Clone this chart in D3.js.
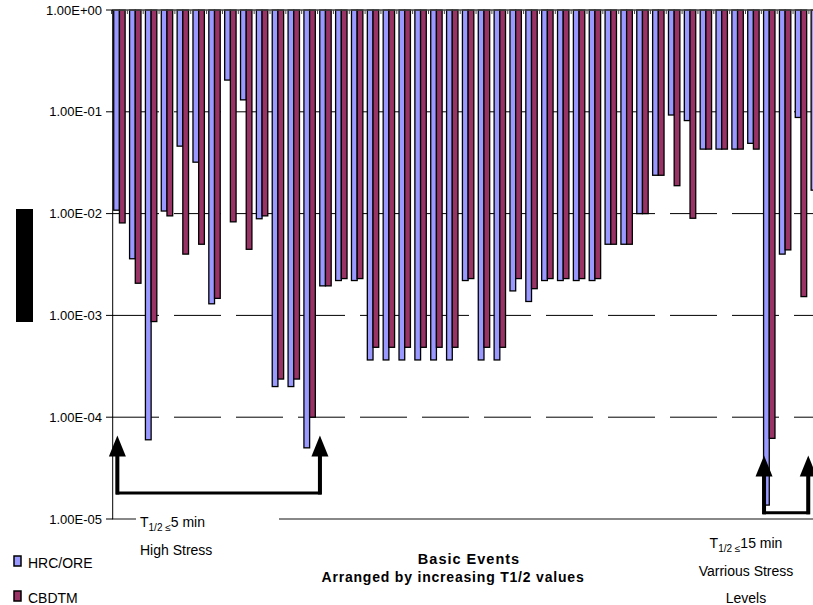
<!DOCTYPE html>
<html>
<head>
<meta charset="utf-8">
<script src="https://cdn.jsdelivr.net/npm/d3@7"></script>
<style>
  body { margin: 0; background: #fff; }
  text { font-family: "Liberation Sans", Arial, sans-serif; }
</style>
</head>
<body>
<svg id="chart" width="813" height="605"></svg>
<script>
// basic events, ordered by increasing T1/2 (no labels shown on the chart)
var categories = d3.range(1, 46).map(function (i) { return "BE" + i; });
var seriesNames = ["HRC/ORE", "CBDTM"];
var seriesColors = ["#9999ff", "#993366"];

var hrcOre = [1.08e-2, 3.6e-3, 6.0e-5, 1.06e-2, 4.6e-2, 3.2e-2, 1.3e-3, 2.05e-1, 1.31e-1, 8.9e-3,
    2.0e-4, 2.0e-4, 5.0e-5, 1.95e-3, 2.2e-3, 2.2e-3, 3.65e-4, 3.65e-4, 3.65e-4, 3.65e-4,
    3.65e-4, 3.65e-4, 2.2e-3, 3.65e-4, 3.65e-4, 1.74e-3, 1.37e-3, 2.2e-3, 2.2e-3, 2.2e-3,
    2.2e-3, 5.0e-3, 5.0e-3, 1.0e-2, 2.38e-2, 9.3e-2, 8.2e-2, 4.3e-2, 4.3e-2, 4.3e-2,
    4.9e-2, 1.37e-5, 4.0e-3, 8.8e-2, 1.7e-2];
var cbdtm = [8.1e-3, 2.07e-3, 8.7e-4, 9.5e-3, 4.0e-3, 5.0e-3, 1.47e-3, 8.3e-3, 4.46e-3, 9.5e-3,
    2.37e-4, 2.37e-4, 1.0e-4, 1.95e-3, 2.3e-3, 2.3e-3, 4.86e-4, 4.86e-4, 4.86e-4, 4.86e-4,
    4.86e-4, 4.86e-4, 2.3e-3, 4.86e-4, 4.86e-4, 2.3e-3, 1.83e-3, 2.3e-3, 2.3e-3, 2.3e-3,
    2.3e-3, 5.0e-3, 5.0e-3, 1.0e-2, 2.38e-2, 1.88e-2, 9.0e-3, 4.3e-2, 4.3e-2, 4.3e-2,
    4.3e-2, 6.2e-5, 4.4e-3, 1.53e-3, 1.2e-2];

var yTicks = [1, 1e-1, 1e-2, 1e-3, 1e-4, 1e-5];
var yTickLabels = ["1.00E+00", "1.00E-01", "1.00E-02", "1.00E-03", "1.00E-04", "1.00E-05"];

// bracket annotations: [from category index, to category index, arrow tip value, bracket value]
var brackets = [[0.37, 13.15, 6.6e-5, 1.8e-5], [41.17, 43.96, 4.2e-5, 1.15e-5]];

var svg = d3.select("#chart");

var step = 15.85;
var x = d3.scaleBand().domain(categories)
    .range([111.5, 111.5 + categories.length * step]);
var xs = d3.scaleBand().domain(seriesNames)
    .range([0, x.bandwidth()]).paddingOuter(0.39);
var xi = d3.scaleLinear().domain([0, 1]).range([111.5, 111.5 + step]);
var y = d3.scaleLog().domain([1e-5, 1]).range([519, 10]);

// dashed gridlines
svg.append("g").selectAll("line")
    .data(yTicks.slice(1, 5))
    .enter().append("line")
    .attr("x1", 112).attr("x2", 813)
    .attr("y1", function (d) { return y(d); })
    .attr("y2", function (d) { return y(d); })
    .attr("stroke", "#000")
    .attr("stroke-width", 1)
    .attr("stroke-dasharray", "47,15");

// bottom line at 1E-5 (gray)
svg.append("line")
    .attr("x1", 112).attr("x2", 813)
    .attr("y1", y(1e-5)).attr("y2", y(1e-5))
    .attr("stroke", "#888").attr("stroke-width", 2);

// bars hang from 1.00E+00
var rows = categories.map(function (c, i) {
    return { cat: c, vals: [hrcOre[i], cbdtm[i]] };
});
var groups = svg.append("g").selectAll("g")
    .data(rows)
    .enter().append("g")
    .attr("transform", function (d) { return "translate(" + x(d.cat) + ",0)"; });

groups.selectAll("rect")
    .data(function (d) {
        return d.vals.map(function (v, k) { return { name: seriesNames[k], v: v, k: k }; });
    })
    .enter().append("rect")
    .attr("x", function (d) { return xs(d.name); })
    .attr("y", y(1))
    .attr("width", xs.bandwidth())
    .attr("height", function (d) { return y(d.v) - y(1); })
    .attr("fill", function (d) { return seriesColors[d.k]; })
    .attr("stroke", "#000")
    .attr("stroke-width", 1.3);

// top category axis (crosses at 1.00E+00)
svg.append("line")
    .attr("x1", 112).attr("x2", 813)
    .attr("y1", y(1)).attr("y2", y(1))
    .attr("stroke", "#444").attr("stroke-width", 1.5);
svg.append("g").selectAll("line")
    .data(categories)
    .enter().append("line")
    .attr("x1", function (d) { return x(d); })
    .attr("x2", function (d) { return x(d); })
    .attr("y1", y(1)).attr("y2", y(1) + 4)
    .attr("stroke", "#444").attr("stroke-width", 1);

// value axis
svg.append("line")
    .attr("x1", 112.7).attr("x2", 112.7)
    .attr("y1", y(1)).attr("y2", y(1e-5))
    .attr("stroke", "#000").attr("stroke-width", 1);
svg.append("g").selectAll("line")
    .data(yTicks)
    .enter().append("line")
    .attr("x1", 106).attr("x2", 112.7)
    .attr("y1", function (d) { return y(d); })
    .attr("y2", function (d) { return y(d); })
    .attr("stroke", "#000");
svg.append("g").selectAll("text")
    .data(yTicks)
    .enter().append("text")
    .attr("x", 102)
    .attr("y", function (d) { return y(d) + 4.5; })
    .attr("text-anchor", "end")
    .attr("font-size", 13)
    .text(function (d, i) { return yTickLabels[i]; });

// blacked-out axis title
svg.append("rect")
    .attr("x", 16).attr("y", 209)
    .attr("width", 17).attr("height", 113)
    .attr("fill", "#000");

// white box behind the left note, over the bottom line
svg.append("rect")
    .attr("x", 136).attr("y", 511)
    .attr("width", 143).attr("height", 50)
    .attr("fill", "#fff");

// brackets with arrows
brackets.forEach(function (b) {
    var xa = xi(b[0]), xb = xi(b[1]);
    var yTip = y(b[2]), yBar = y(b[3]);
    var g = svg.append("g");
    g.append("path")
        .attr("d", "M" + xa + "," + (yTip + 18) + " L" + xa + "," + yBar +
            " L" + xb + "," + yBar + " L" + xb + "," + (yTip + 18))
        .attr("fill", "none")
        .attr("stroke", "#000")
        .attr("stroke-width", 3);
    [xa, xb].forEach(function (xx) {
        g.append("line")
            .attr("x1", xx).attr("x2", xx)
            .attr("y1", yTip + 18).attr("y2", yBar + 1.5)
            .attr("stroke", "#000").attr("stroke-width", 4);
        g.append("polygon")
            .attr("points", xx + "," + yTip + " " + (xx - 8.5) + "," + (yTip + 21) + " " + (xx + 8.5) + "," + (yTip + 21))
            .attr("fill", "#000");
    });
});

// notes
var addNote = function (xPos, yPos, anchor, minutes) {
    var t = svg.append("text")
        .attr("x", xPos).attr("y", yPos)
        .attr("text-anchor", anchor)
        .attr("font-size", 14);
    t.append("tspan").text("T");
    t.append("tspan").attr("font-size", 10).attr("dy", 4).text("1/2 ");
    t.append("tspan").attr("font-size", 10).text("≤");
    t.append("tspan").attr("dy", -4).text(minutes + " min");
};
addNote(140, 527, "start", "5");
svg.append("text").attr("x", 140).attr("y", 555)
    .attr("font-size", 14).text("High Stress");

addNote(746, 548, "middle", "15");
svg.append("text").attr("x", 746).attr("y", 576)
    .attr("text-anchor", "middle").attr("font-size", 14).text("Varrious Stress");
svg.append("text").attr("x", 746).attr("y", 603)
    .attr("text-anchor", "middle").attr("font-size", 14).text("Levels");

// category axis title
svg.append("text").attr("x", 469).attr("y", 564)
    .attr("text-anchor", "middle").attr("font-size", 14.5)
    .attr("font-weight", "bold").attr("letter-spacing", 1)
    .text("Basic Events");
svg.append("text").attr("x", 453).attr("y", 582)
    .attr("text-anchor", "middle").attr("font-size", 14)
    .attr("font-weight", "bold").attr("letter-spacing", 0.8)
    .text("Arranged by increasing T1/2 values");

// legend
var legend = svg.append("g").selectAll("g")
    .data(seriesNames)
    .enter().append("g")
    .attr("transform", function (d, i) { return "translate(14," + (556 + i * 35) + ")"; });
legend.append("rect")
    .attr("width", 7).attr("height", 10)
    .attr("fill", function (d, i) { return seriesColors[i]; })
    .attr("stroke", "#000").attr("stroke-width", 1.5);
legend.append("text")
    .attr("x", 14).attr("y", 11.5)
    .attr("font-size", 14)
    .text(function (d) { return d; });
</script>
</body>
</html>
